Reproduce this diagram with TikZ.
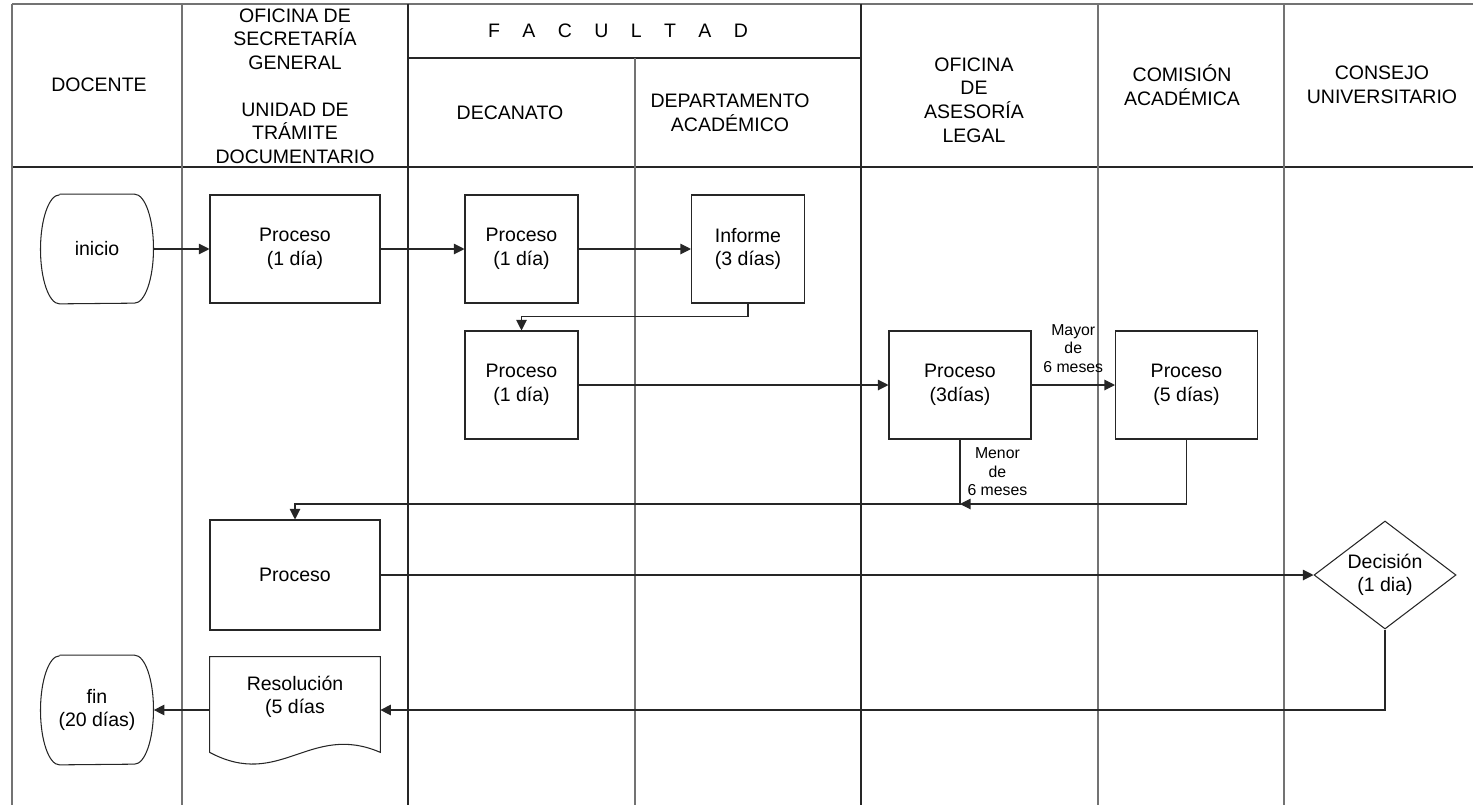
\documentclass[tikz,border=0pt]{standalone}
\usepackage{fontspec}
\setmainfont{Liberation Sans}
\usetikzlibrary{arrows.meta,shapes.geometric}

\begin{document}
\begin{tikzpicture}[x=0.2mm,y=0.2mm,
  font=\fontsize{11.1}{13.4}\selectfont,
  lane/.style={draw=black!55,line width=0.7pt},
  rule/.style={draw=black!85,line width=0.6pt},
  head/.style={align=center,inner sep=0pt},
  proc/.style={rule,align=center,inner sep=0pt,minimum height=21.6mm},
  term/.style={align=center,inner sep=0pt,minimum width=22.6mm,minimum height=21.8mm},
  doc/.style={inner sep=0pt,minimum width=34mm,minimum height=21.2mm},
  decide/.style={rule,diamond,align=center,inner sep=0pt,aspect=1.31,minimum width=28.4mm,minimum height=21.6mm},
  lbl/.style={align=center,inner sep=0pt,font=\fontsize{9}{10.6}\selectfont},
  arr/.style={rule,-{Triangle[length=2.1mm,width=2.1mm]}}]
\useasboundingbox (0,0) rectangle (1473,-805);

% table
\draw[lane] (12,-4) -- (1473,-4);
\draw[rule] (12,-167) -- (1473,-167);
\draw[rule] (408,-58) -- (861,-58);
\foreach \x in {12,182,1098,1284} \draw[lane] (\x,-4) -- (\x,-805);
\foreach \x in {408,861} \draw[rule] (\x,-4) -- (\x,-805);
\draw[lane] (635,-58) -- (635,-805);

% headers
\node[head] (hdoc) at (99,-85) {DOCENTE};
\node[head] (hsec) at (295,-86) {OFICINA DE\\SECRETARÍA\\GENERAL\\[\baselineskip]UNIDAD DE\\TRÁMITE\\DOCUMENTARIO};
\node[head] (hfac) at (618,-31) {F\hspace{1.15em}A\hspace{1.15em}C\hspace{1.15em}U\hspace{1.15em}L\hspace{1.15em}T\hspace{1.15em}A\hspace{1.15em}D};
\node[head] (hdec) at (510,-113) {DECANATO};
\node[head] (hdep) at (730,-113) {DEPARTAMENTO\\ACADÉMICO};
\node[head] (hase) at (974,-100) {OFICINA\\DE\\ASESORÍA\\LEGAL};
\node[head] (hcom) at (1182,-85) {COMISIÓN\\ACADÉMICA};
\node[head] (hcon) at (1382,-85) {CONSEJO\\UNIVERSITARIO};

% nodes
\node[term] (ini) at (97,-249) {inicio};
\node[proc,minimum width=34mm] (p1) at (295,-249) {Proceso\\(1 día)};
\node[proc,minimum width=22.6mm] (p2) at (521.5,-249) {Proceso\\(1 día)};
\node[proc,minimum width=22.6mm] (inf) at (748,-249) {Informe\\(3 días)};
\node[proc,minimum width=22.6mm] (p3) at (521.5,-385) {Proceso\\(1 día)};
\node[proc,minimum width=28.4mm] (al) at (960,-385) {Proceso\\(3días)};
\node[proc,minimum width=28.4mm] (ca) at (1186.5,-385) {Proceso\\(5 días)};
\node[proc,minimum width=34mm,minimum height=22mm] (p4) at (295,-575) {Proceso};
\node[decide] (dec) at (1385,-575) {Decisión\\(1 dia)};
\node[doc] (res) at (295,-710) {};
\node[align=center,inner sep=0pt] (restxt) at (295,-697) {Resolución\\(5 días};
\node[term] (fin) at (97,-710) {fin\\(20 días)};

% outlines
\foreach \n in {ini,fin}
  \draw[rule] ([xshift=-7.5mm]\n.north) -- ([xshift=7.5mm]\n.north)
    arc[start angle=90,end angle=-90,x radius=3.8mm,y radius=10.9mm]
    -- ([xshift=-7.5mm]\n.south)
    arc[start angle=270,end angle=90,x radius=3.8mm,y radius=10.9mm];
\draw[rule] (res.north west) -- (res.north east) -- ([yshift=2.2mm]res.south east)
  .. controls (310,-722) and (280,-790) .. ([yshift=2.2mm]res.south west) -- cycle;

% connectors
\coordinate (join) at (960,-504);
\draw[arr] (ini) -- (p1);
\draw[arr] (p1) -- (p2);
\draw[arr] (p2) -- (inf);
\draw[arr] (inf.south) -- ++(0,-13) -| (p3.north);
\draw[arr] (p3) -- (al);
\draw[arr] (al) -- node[lbl,above=2.4mm] {Mayor\\de\\6 meses} (ca);
\draw[arr] (ca.south) |- (join);
\draw[arr] (al.south) -- node[lbl,right=1.4mm] {Menor\\de\\6 meses} (join) -| (p4.north);
\draw[arr] (p4) -- (dec);
\draw[arr] (dec.south) |- (res.east);
\draw[arr] (res.west) -- (fin.east);
\end{tikzpicture}
\end{document}
